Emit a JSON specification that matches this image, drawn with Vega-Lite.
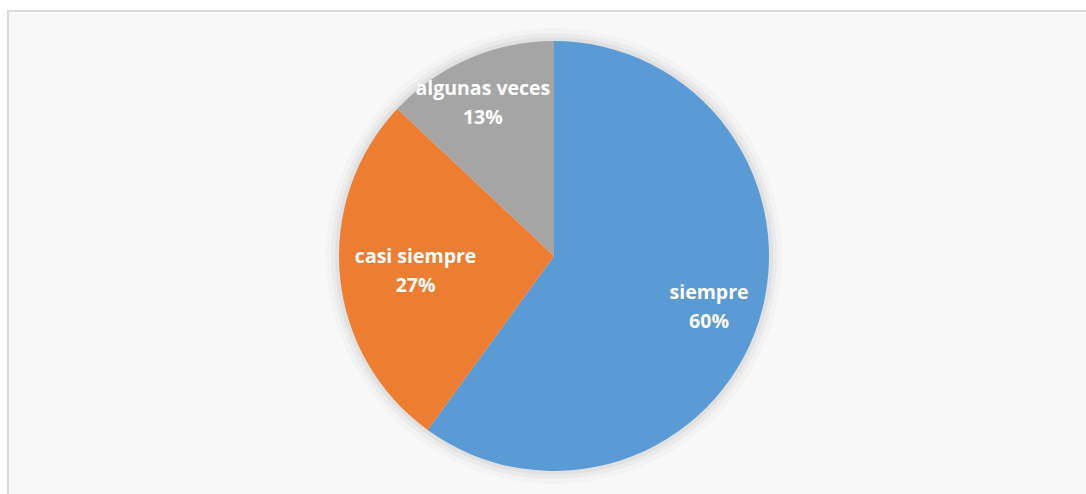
{
  "$schema": "https://vega.github.io/schema/vega-lite/v6.json",
  "width": 1092,
  "height": 490,
  "padding": {"left": 8, "top": 11, "right": 0, "bottom": 0},
  "autosize": {"type": "none"},
  "background": "white",
  "view": {"fill": "#f8f8f8", "stroke": "#dadada", "strokeWidth": 2},
  "data": {"values": [
    {"category": "siempre", "value": 60, "order": 1},
    {"category": "casi siempre", "value": 27, "order": 2},
    {"category": "algunas veces", "value": 13, "order": 3}
  ]},
  "transform": [
    {"stack": "value", "groupby": [], "sort": [{"field": "order", "order": "ascending"}], "as": ["v0", "v1"]},
    {"calculate": "(datum.v0 + datum.v1) / 2", "as": "mid"},
    {"calculate": "datum.category + '\\n' + datum.value + '%'", "as": "label"}
  ],
  "layer": [
    {"mark": {"type": "arc", "radius": 228, "fill": "#000000", "opacity": 0.02},
     "encoding": {"theta": {"field": "v0", "type": "quantitative", "scale": {"domain": [0, 100]}}, "theta2": {"field": "v1"}}},
    {"mark": {"type": "arc", "radius": 223, "fill": "#000000", "opacity": 0.03},
     "encoding": {"theta": {"field": "v0", "type": "quantitative", "scale": {"domain": [0, 100]}}, "theta2": {"field": "v1"}}},
    {"mark": {"type": "arc", "radius": 219, "fill": "#000000", "opacity": 0.04},
     "encoding": {"theta": {"field": "v0", "type": "quantitative", "scale": {"domain": [0, 100]}}, "theta2": {"field": "v1"}}},
    {
      "mark": {"type": "arc", "radius": 215},
      "encoding": {
        "theta": {"field": "v0", "type": "quantitative", "scale": {"domain": [0, 100]}},
        "theta2": {"field": "v1"},
        "color": {
          "field": "category", "type": "nominal",
          "scale": {"domain": ["siempre", "casi siempre", "algunas veces"], "range": ["#5B9BD5", "#ED7D31", "#A5A5A5"]},
          "legend": null
        }
      }
    },
    {
      "transform": [{"filter": "datum.category == 'siempre'"}],
      "mark": {"type": "text", "radius": 163, "dy": -13, "fontSize": 19.5, "font": "Open Sans", "fontWeight": "bold", "fill": "white", "lineBreak": "\n", "lineHeight": 29, "baseline": "middle"},
      "encoding": {"theta": {"field": "mid", "type": "quantitative", "scale": {"domain": [0, 100]}}, "text": {"field": "label"}}
    },
    {
      "transform": [{"filter": "datum.category == 'casi siempre'"}],
      "mark": {"type": "text", "radius": 139, "dy": -12, "fontSize": 19.5, "font": "Open Sans", "fontWeight": "bold", "fill": "white", "lineBreak": "\n", "lineHeight": 29, "baseline": "middle"},
      "encoding": {"theta": {"field": "mid", "type": "quantitative", "scale": {"domain": [0, 100]}}, "text": {"field": "label"}}
    },
    {
      "transform": [{"filter": "datum.category == 'algunas veces'"}],
      "mark": {"type": "text", "radius": 169, "dy": -12, "dx": -4, "fontSize": 19.5, "font": "Open Sans", "fontWeight": "bold", "fill": "white", "lineBreak": "\n", "lineHeight": 29, "baseline": "middle"},
      "encoding": {"theta": {"field": "mid", "type": "quantitative", "scale": {"domain": [0, 100]}}, "text": {"field": "label"}}
    }
  ]
}
